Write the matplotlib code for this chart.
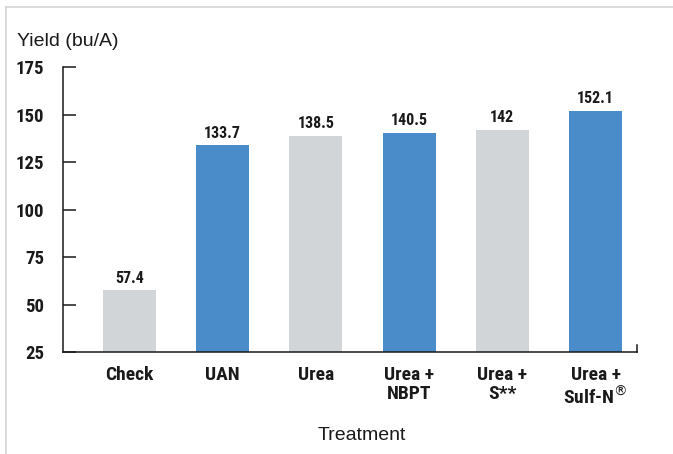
import matplotlib
matplotlib.use("Agg")
import matplotlib.pyplot as plt
from matplotlib.lines import Line2D

treatments = ["Check", "UAN", "Urea", "Urea +\nNBPT", "Urea +\nS**", "Urea +\nSulf-N$^{\u00ae}$"]
yields = [57.4, 133.7, 138.5, 140.5, 142, 152.1]
labels = ["57.4", "133.7", "138.5", "140.5", "142", "152.1"]
yticks = [25, 50, 75, 100, 125, 150, 175]

blue = "#4a8bc9"
gray = "#d1d5d8"
colors = [gray, blue, gray, blue, gray, blue]

narrow = ["Roboto Condensed", "DejaVu Sans"]
regular = ["Liberation Sans", "DejaVu Sans"]
ink = "#1a1a1a"

fig = plt.figure(figsize=(6.73, 4.54), dpi=100)
ax = fig.add_axes([63 / 673, 1 - 352 / 454, 574 / 673, 285 / 454])

x = list(range(len(treatments)))
ax.bar(x, yields, width=0.57, color=colors, bottom=0)

for xi, v, lab in zip(x, yields, labels):
    ax.annotate(lab, (xi, v), xytext=(0, 3.5), textcoords="offset points",
                ha="center", va="bottom", fontsize=11.5, fontweight="bold",
                family=narrow, color=ink)

ax.set_ylim(25, 175)
ax.set_xlim(-0.713, 5.445)
ax.set_yticks(yticks)
ax.set_xticks(x)
ax.set_xticklabels(treatments, fontsize=14, fontweight="bold", family=narrow,
                   linespacing=1.1, va="top")
ax.set_yticklabels([str(t) for t in yticks], fontsize=13.5, fontweight="bold",
                   family=narrow)

ax.tick_params(axis="y", direction="in", length=9.5, width=1.1, pad=13.5, colors=ink)
ax.tick_params(axis="x", length=0, pad=10, colors=ink)

ax.spines["top"].set_visible(False)
for side in ["left", "bottom", "right"]:
    ax.spines[side].set_linewidth(1.1)
    ax.spines[side].set_color(ink)
ax.spines["right"].set_bounds(25, 28.5)

fig.text(17 / 673, 1 - 41 / 454, "Yield (bu/A)", fontsize=14, va="center", ha="left",
         family=regular, color=ink)
fig.text(362 / 673, 1 - 435 / 454, "Treatment", fontsize=14, va="center", ha="center",
         family=regular, color=ink)

# light frame around the graphic
fig.add_artist(Line2D([6 / 673, 1], [1 - 7 / 454, 1 - 7 / 454], color="#d4d4d4", lw=1.2))
fig.add_artist(Line2D([6 / 673, 6 / 673], [0, 1 - 7 / 454], color="#d4d4d4", lw=1.2))

fig.savefig("out.png", dpi=100)
